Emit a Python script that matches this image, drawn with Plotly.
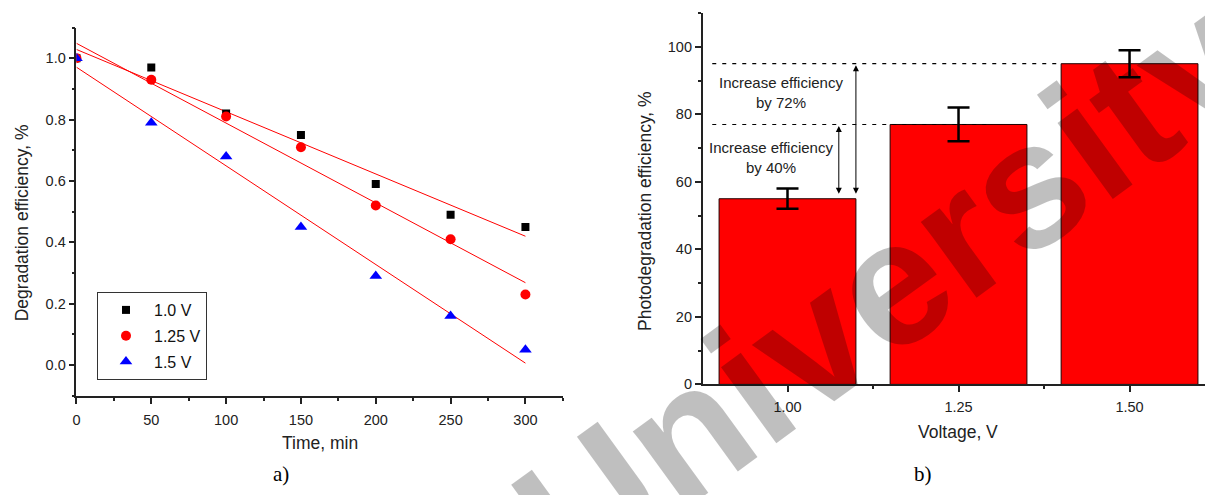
import numpy as np
import plotly.graph_objects as go

# ---------------- data ----------------
time_min = [0, 50, 100, 150, 200, 250, 300]
eff_1_0 = [1.00, 0.97, 0.82, 0.75, 0.59, 0.49, 0.45]
eff_1_25 = [1.00, 0.93, 0.81, 0.71, 0.52, 0.41, 0.23]
eff_1_5 = [1.00, 0.79, 0.68, 0.45, 0.29, 0.16, 0.05]
series_names = ["1.0 V", "1.25 V", "1.5 V"]

voltage = [1.00, 1.25, 1.50]
voltage_labels = ["1.00", "1.25", "1.50"]
photo_eff = [55, 77, 95]
photo_err = [3, 5, 4]

W, H = 1205, 495
def px(x):
    return x / W
def py(y):
    return 1 - y / H

FONT = "Arial, Liberation Sans, sans-serif"
AX = "#222222"

fig = go.Figure()

# linear fits (left panel)
for ys in (eff_1_0, eff_1_25, eff_1_5):
    k, b = np.polyfit(time_min, ys, 1)
    xs = [time_min[0], time_min[-1]]
    fig.add_trace(go.Scatter(x=xs, y=[k * v + b for v in xs], mode="lines",
                             line=dict(color="#ff0000", width=1),
                             showlegend=False, hoverinfo="skip",
                             xaxis="x", yaxis="y"))

styles = [dict(symbol="square", color="#000000", size=8),
          dict(symbol="circle", color="#ff0000", size=10),
          dict(symbol="triangle-up", color="#0000ff", size=11)]
for i, (name, ys, st) in enumerate(zip(series_names, (eff_1_0, eff_1_25, eff_1_5), styles)):
    fig.add_trace(go.Scatter(x=time_min, y=ys, mode="markers", name=name,
                             marker=dict(symbol=st["symbol"], color=st["color"], size=st["size"]),
                             legendgroup=f"g{i}", xaxis="x", yaxis="y"))

# bars (right panel)
fig.add_trace(go.Bar(x=voltage, y=photo_eff, width=0.2,
                     marker=dict(color="#ff0000", line=dict(color="#200000", width=1)),
                     error_y=dict(type="data", array=photo_err, color="#000000",
                                  thickness=2.5, width=11),
                     showlegend=False, xaxis="x2", yaxis="y2"))

axis_common = dict(showline=True, linecolor=AX, linewidth=1.6, ticks="outside",
                   ticklen=6, tickwidth=1.5, tickcolor=AX, showgrid=False, zeroline=False,
                   tickfont=dict(family=FONT, size=14.5, color="#222"), mirror=False)

fig.update_layout(
    width=W, height=H, margin=dict(l=0, r=0, t=0, b=0),
    plot_bgcolor="white", paper_bgcolor="white",
    xaxis=dict(domain=[px(72.7), px(560.7)], range=[0, 325], dtick=50, tick0=0,
               minor=dict(dtick=25, tick0=0, ticks="outside", ticklen=3, tickwidth=1.5, tickcolor=AX),
               ticklabelstandoff=4, anchor="y", **axis_common),
    yaxis=dict(domain=[py(402.3), py(28)], range=[-0.1, 1.1], tickvals=[0, 0.2, 0.4, 0.6, 0.8, 1.0],
               tickformat=".1f",
               minor=dict(tickvals=[-0.1, 0.1, 0.3, 0.5, 0.7, 0.9, 1.1], ticks="outside", ticklen=3, tickwidth=1.5, tickcolor=AX),
               anchor="x", **axis_common),
    xaxis2=dict(domain=[px(701), 1.0], range=[0.876, 1.6103], tickvals=voltage, ticktext=voltage_labels,
                minor=dict(tickvals=[0.875 + 0.25 * i for i in range(4)], ticks="outside", ticklen=3, tickwidth=1.5, tickcolor=AX),
                ticklabelstandoff=2, anchor="y2", **axis_common),
    yaxis2=dict(domain=[py(390.7), py(13.3)], range=[0, 110], dtick=20, tick0=0,
                minor=dict(dtick=10, tick0=0, ticks="outside", ticklen=3, tickwidth=1.5, tickcolor=AX),
                anchor="x2", **axis_common),
    legend=dict(x=px(93.3), y=py(296.8), xanchor="left", yanchor="top",
                bordercolor="#333333", borderwidth=1, bgcolor="white",
                font=dict(family=FONT, size=16, color="#111"),
                itemwidth=46, tracegroupgap=2),
    showlegend=True,
)

# dashed reference lines (right panel)
fig.add_shape(type="line", xref="x2", yref="y2", x0=0.89, x1=voltage[2] - 0.1,
              y0=photo_eff[2], y1=photo_eff[2], line=dict(color="#000", width=1.2, dash="4px,6px"))
fig.add_shape(type="line", xref="x2", yref="y2", x0=0.89, x1=1.296,
              y0=photo_eff[1], y1=photo_eff[1], line=dict(color="#000", width=1.2, dash="4px,6px"))

# double-headed arrows
for xa, ytop in ((1.075, photo_eff[1]), (1.10, photo_eff[2])):
    fig.add_annotation(xref="x2", yref="y2", axref="x2", ayref="y2",
                       x=xa, y=photo_eff[0] + 1.5, ax=xa, ay=ytop, text="",
                       showarrow=True, arrowhead=2, arrowside="end+start",
                       arrowsize=1.2, arrowwidth=1, arrowcolor="#000")

def note(x, y, text, font, xref="paper", yref="paper", angle=0):
    fig.add_annotation(xref=xref, yref=yref, x=x, y=y, text=text, showarrow=False,
                       xanchor="center", yanchor="middle", textangle=angle, font=font)

ann_font = dict(family=FONT, size=15, color="#222")
note(0.990, 86.4, "Increase efficiency<br>by 72%", ann_font, "x2", "y2")
note(0.9765, 67.3, "Increase efficiency<br>by 40%", ann_font, "x2", "y2")

# axis titles
title_font = dict(family=FONT, size=17.5, color="#222")
note(px(316.6), py(450.5), "Time, min", title_font)
note(px(18), py(226), "Degradation efficiency, %", title_font, angle=-90)
note(px(957.3), py(439), "Voltage, V", title_font)
note(px(643), py(214.6), "Photodegradation efficiency, %", title_font, angle=-90)

# panel labels
lab_font = dict(family="Times New Roman, Liberation Serif, serif", size=21, color="#000")
note(px(278), py(482), "a)", lab_font)
note(px(922), py(482), "b)", lab_font)

# watermark
note(px(885), py(292), "<b>University</b>",
     dict(family=FONT, size=178, color="rgba(0,0,0,0.25)"), angle=-36)

fig.write_html("out.html", config={"displayModeBar": False},
               post_script="document.body.style.margin='0';")
